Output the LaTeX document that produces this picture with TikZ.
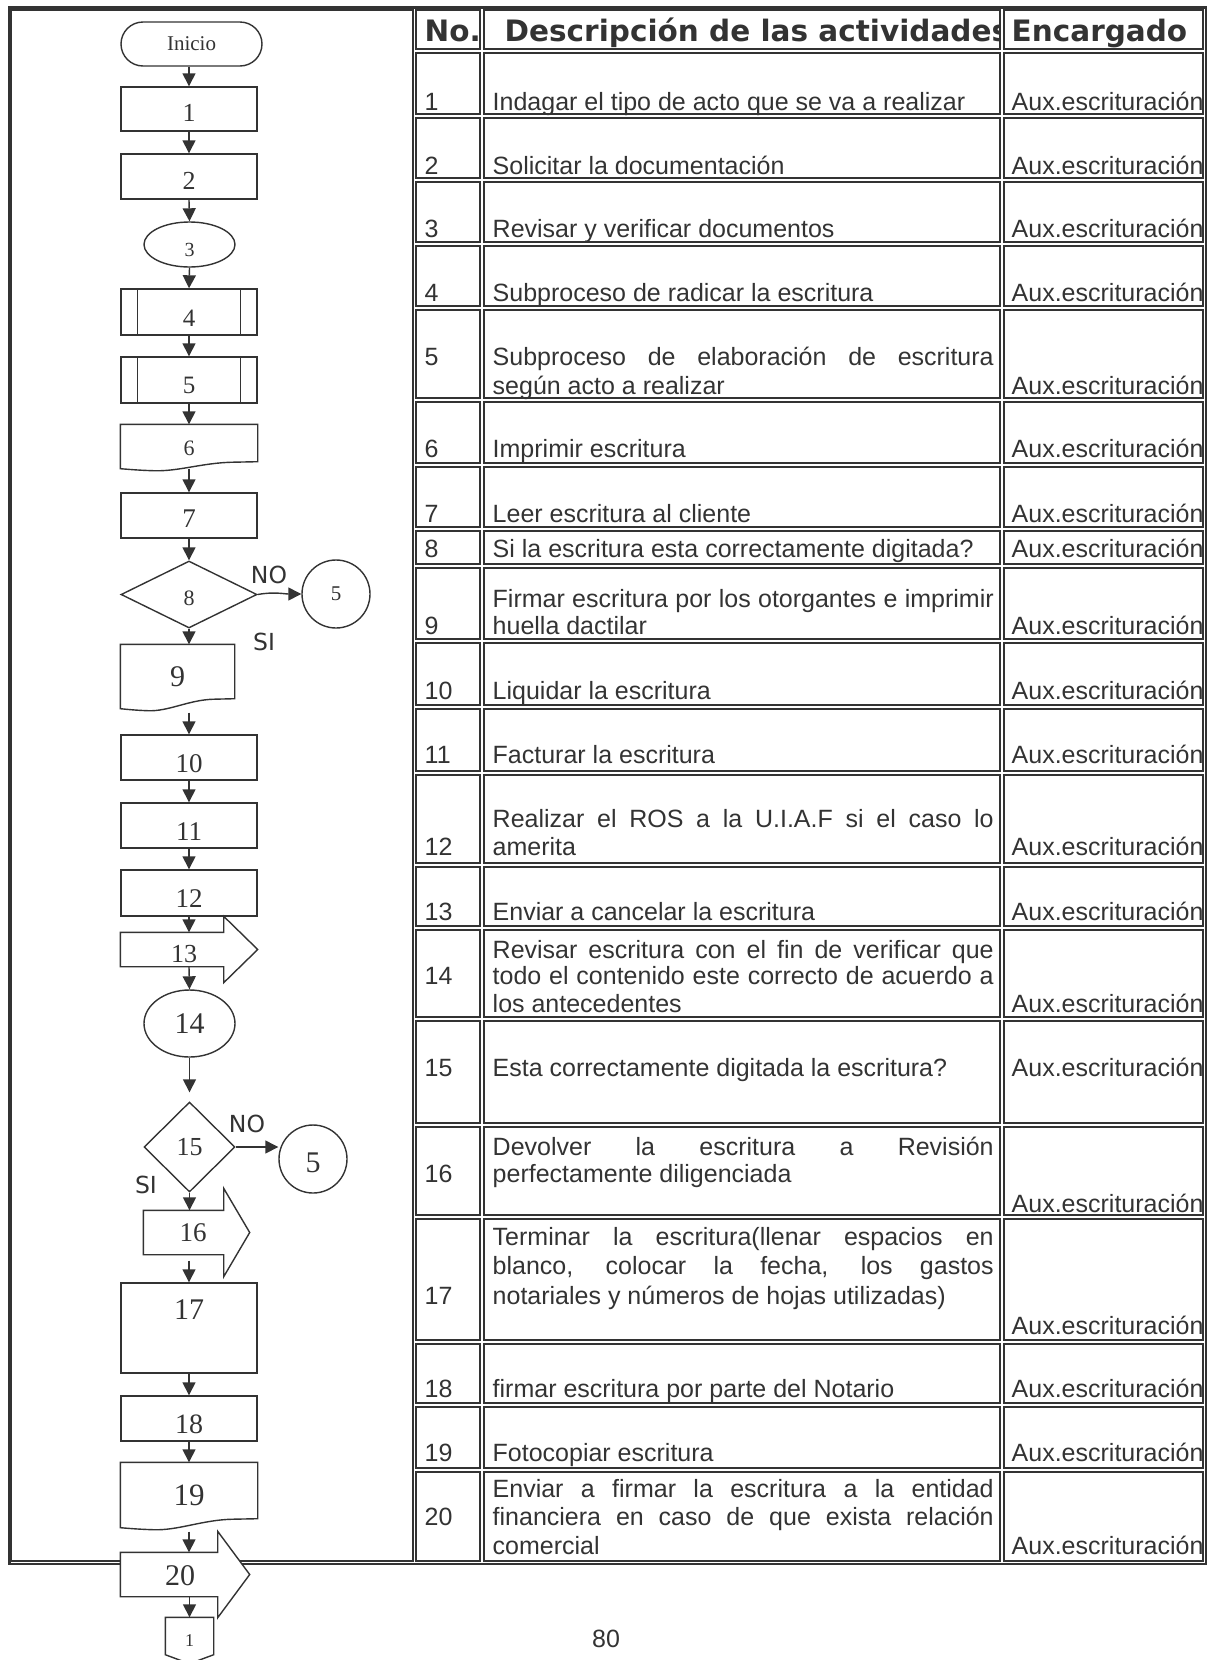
\documentclass[tikz,border=0pt]{standalone}
\usepackage{fontspec}
\setmainfont{Liberation Sans}
\newfontfamily\romana{Liberation Serif}
\newfontfamily\vera{DejaVu Sans}
\usetikzlibrary{shapes,arrows.meta,positioning,calc}
\definecolor{tinta}{HTML}{333333}

% linea justificada de la descripcion
\newcommand{\just}[1]{\makebox[501pt][s]{#1}}

% borde de documento (fondo ondulado)
\newcommand{\docborde}[2]{%
  \draw (#1.south west) -- (#1.north west) -- (#1.north east)
    -- ($(#1.south east)+(0,-#2)$)
    -- ($(#1.south west)!0.82!(#1.south east)+(0,-#2+0.5)$)
    .. controls ($(#1.south west)!0.6!(#1.south east)+(0,-#2+1)$)
           and ($(#1.south west)!0.42!(#1.south east)+(0,3)$)
    .. ($(#1.south west)!0.24!(#1.south east)+(0,2)$)
    .. controls ($(#1.south west)!0.12!(#1.south east)+(0,1.5)$)
           and ($(#1.south west)!0.05!(#1.south east)+(0,0.5)$)
    .. (#1.south west) -- cycle;}

% borde de flecha de envio (cuerpo + punta)
\newcommand{\flechaborde}[3]{%
  \draw[fill=white] (#1.north west) -- ($(#1.north east)+(-#2,0)$) -- ++(0,-#3)
    -- (#1.east) -- ($(#1.south east)+(-#2,#3)$) -- ($(#1.south east)+(-#2,0)$)
    -- (#1.south west) -- cycle;}

\begin{document}
\begin{tikzpicture}[x=1pt,y=-1pt,color=tinta,line width=1.4pt,
    caja/.style={draw,rectangle,minimum width=136pt,minimum height=45pt,inner sep=0pt},
    senal/.style={rectangle,inner sep=0pt},
    flecha/.style={-{Triangle[length=13pt,width=13pt]}},
    num/.style={font=\romana\fontsize{#1}{#1}\selectfont},
    bajar/.style={text height=#1,text depth=0pt},
    sino/.style={inner sep=0pt,font=\vera\fontsize{23.5}{24}\selectfont},
    txt/.style={anchor=base west,inner sep=0pt,font=\fontsize{25}{28}\selectfont},
    cab/.style={anchor=base west,inner sep=0pt,font=\vera\bfseries\fontsize{29.5}{30}\selectfont},
    celda/.style={line width=1.7pt}]
    \useasboundingbox (0,0) rectangle (1217,1660);

    % Marco
    \draw[line width=2.5pt] (9.5,7.5) rectangle (1206,1564);
    \draw[line width=1.8pt] (11.5,10) rectangle (413,1561);

    % Celdas de la tabla
    \foreach \ya/\yb in {8/51,51/116,116/180,180/244,244/308,308/400,400/465,465/529,529/566,566/641,641/707,707/773,773/865,865/928,928/1019,1019/1125,1125/1217,1217/1342,1342/1405,1405/1470,1470/1563}{
      \draw[celda] (416,\ya+2) rectangle (480,\yb-2);
      \draw[celda] (484,\ya+2) rectangle (1000,\yb-2);
      \draw[celda] (1004,\ya+2) rectangle (1203,\yb-2);
    }

    % Encabezado
    \node[cab] (cabno) at (424,41) {No.};
    \begin{scope}
      \clip (484,10) rectangle (1000,49);
      \node[cab] (cabdesc) at (504,41) {Descripción de las actividades};
    \end{scope}
    \node[cab] (cabenc) at (1011,41) {Encargado};

    % Numeros
    \foreach \n/\y in {1/110.6,2/174,3/237.6,4/301,5/365.6,6/457.7,7/522.3,8/557.2,9/634.5,10/699,11/763.6,12/855.6,13/920.2,14/984.8,15/1076.8,16/1182.7,17/1304.4,18/1397.5,19/1461,20/1525.5}
      \node[txt] (no\n) at (424,\y) {\n};

    % Encargado
    \foreach \y [count=\i] in {110.6,174,237.6,301,394,457.7,522.3,557.2,634.5,699,763.6,855.6,920.2,1012.3,1076.8,1212.3,1334,1397.5,1461,1554}
      \node[txt] (enc\i) at (1011,\y) {Aux.escrituración};

    % Descripciones
    \node[txt] (des1) at (492,110.6) {Indagar el tipo de acto que se va a realizar};
    \node[txt] (des2) at (492,174) {Solicitar la documentación};
    \node[txt] (des3) at (492,237.6) {Revisar y verificar documentos};
    \node[txt] (des4) at (492,301) {Subproceso de radicar la escritura};
    \node[txt] (des5a) at (492,365.6) {\just{Subproceso de elaboración de escritura}};
    \node[txt] (des5b) at (492,394) {según acto a realizar};
    \node[txt] (des6) at (492,457.7) {Imprimir escritura};
    \node[txt] (des7) at (492,522.3) {Leer escritura al cliente};
    \node[txt] (des8) at (492,557.2) {Si la escritura esta correctamente digitada?};
    \node[txt] (des9a) at (492,607) {\just{Firmar escritura por los otorgantes e imprimir}};
    \node[txt] (des9b) at (492,634.5) {huella dactilar};
    \node[txt] (des10) at (492,699) {Liquidar la escritura};
    \node[txt] (des11) at (492,763.6) {Facturar la escritura};
    \node[txt] (des12a) at (492,827) {\just{Realizar el ROS a la U.I.A.F si el caso lo}};
    \node[txt] (des12b) at (492,855.6) {amerita};
    \node[txt] (des13) at (492,920.2) {Enviar a cancelar la escritura};
    \node[txt] (des14a) at (492,958.3) {\just{Revisar escritura con el fin de verificar que}};
    \node[txt] (des14b) at (492,984.8) {\just{todo el contenido este correcto de acuerdo a}};
    \node[txt] (des14c) at (492,1012.3) {los antecedentes};
    \node[txt] (des15) at (492,1076.8) {Esta correctamente digitada la escritura?};
    \node[txt] (des16a) at (492,1155) {\just{Devolver la escritura a Revisión}};
    \node[txt] (des16b) at (492,1182.7) {perfectamente diligenciada};
    \node[txt] (des17a) at (492,1245) {\just{Terminar la escritura(llenar espacios en}};
    \node[txt] (des17b) at (492,1274.7) {\just{blanco, colocar la fecha, los gastos}};
    \node[txt] (des17c) at (492,1304.4) {notariales y números de hojas utilizadas)};
    \node[txt] (des18) at (492,1397.5) {firmar escritura por parte del Notario};
    \node[txt] (des19) at (492,1461) {Fotocopiar escritura};
    \node[txt] (des20a) at (492,1497) {\just{Enviar a firmar la escritura a la entidad}};
    \node[txt] (des20b) at (492,1525.5) {\just{financiera en caso de que exista relación}};
    \node[txt] (des20c) at (492,1554) {comercial};

    % Pagina
    \node[txt,anchor=base] (pagina) at (606,1647) {80};

    % Diagrama de flujo
    \node[caja,rounded corners=22pt,minimum width=141pt,minimum height=44pt,num=21] (inicio) at (191.5,44) {Inicio};
    \node[caja,minimum height=44pt,num=26,bajar=25.6pt] (b1) at (189,109) {1};
    \node[caja,num=26,bajar=25.6pt] (b2) at (189,176.5) {2};
    \node[draw,ellipse,minimum width=91pt,minimum height=45pt,inner sep=0pt,num=20,bajar=23.5pt] (e3) at (189.5,244.5) {3};
    \node[caja,minimum height=46pt,num=25,bajar=28.9pt] (b4) at (189,312) {4};
    \node[caja,minimum height=46pt,num=25,bajar=26.9pt] (b5) at (189,380) {5};
    \node[senal,minimum width=136pt,minimum height=43pt,num=22,bajar=18.9pt] (d6) at (189,446.5) {6};
    \node[caja,num=27,bajar=24.3pt] (b7) at (189,515.5) {7};
    \node[draw,diamond,minimum width=136pt,minimum height=67pt,inner sep=0pt,num=22,bajar=22.9pt] (d8) at (189,594.5) {8};
    \node[draw,circle,minimum size=68pt,inner sep=0pt,num=21] (c5a) at (336,594) {5};
    \node[senal,minimum width=113pt,minimum height=63pt,num=30] (d9) at (177.5,676.5) {9};
    \node[caja,num=27,bajar=30.3pt] (b10) at (189,757.5) {10};
    \node[caja,num=27,bajar=30.3pt] (b11) at (189,825.5) {11};
    \node[caja,minimum height=46pt,num=27,bajar=28.3pt] (b12) at (189,893) {12};
    \node[senal,minimum width=136pt,minimum height=33pt] (a13) at (189,949.5) {};
    \node[draw,ellipse,minimum width=91pt,minimum height=67pt,inner sep=0pt,num=30] (e14) at (189.5,1023.5) {14};
    \node[draw,diamond,minimum width=91pt,minimum height=90pt,inner sep=0pt,num=26] (d15) at (189.5,1147) {15};
    \node[draw,circle,minimum size=68pt,inner sep=0pt,num=30,bajar=26.3pt] (c5b) at (313,1159) {5};
    \node[senal,minimum width=105pt,minimum height=43pt] (a16) at (196.5,1232.5) {};
    \node[caja,minimum height=90pt,text depth=36pt,num=30] (b17) at (189,1328) {17};
    \node[caja,num=28,bajar=30.9pt] (b18) at (189,1418.5) {18};
    \node[senal,minimum width=136pt,minimum height=64pt,num=31] (d19) at (189,1495) {19};
    \node[senal,minimum width=128pt,minimum height=43pt] (a20) at (185,1574.5) {};
    \node[senal,minimum width=47pt,minimum height=45pt,num=18] (c1) at (189.5,1640.5) {1};

    % Formas especiales
    \draw ([xshift=17pt]b4.north west) -- ([xshift=17pt]b4.south west);
    \draw ([xshift=-17pt]b4.north east) -- ([xshift=-17pt]b4.south east);
    \draw ([xshift=17pt]b5.north west) -- ([xshift=17pt]b5.south west);
    \draw ([xshift=-17pt]b5.north east) -- ([xshift=-17pt]b5.south east);
    \docborde{d6}{7}
    \docborde{d9}{10}
    \docborde{d19}{9}
    \flechaborde{a13}{34}{16}
    \flechaborde{a16}{26}{22}
    \flechaborde{a20}{32}{21}
    \node[num=26] (t13) at (184,954) {13};
    \node[num=27] (t16) at (193,1233) {16};
    \node[num=30] (t20) at (180,1576) {20};
    \draw (c1.north west) -- (c1.north east) -- ($(c1.south east)+(0,-9)$) -- (c1.south) -- ($(c1.south west)+(0,-9)$) -- cycle;

    % Conectores
    \draw[flecha] (b1.north |- inicio.south) -- (b1.north);
    \draw[flecha] (b1) -- (b2);
    \draw[flecha] (b2.south) -- (e3.north);
    \draw[flecha] (e3.south) -- (b4.north);
    \draw[flecha] (b4) -- (b5);
    \draw[flecha] (b5) -- (d6);
    \draw[flecha] (d6.south) -- (b7.north);
    \draw[flecha] (b7.south) -- (d8.north);
    \draw[flecha] (d8.south) -- (d8.south |- d9.north);
    \draw[flecha,shorten <=4pt] (d9.south -| b10.north) -- (b10.north);
    \draw[flecha] (b10) -- (b11);
    \draw[flecha] (b11) -- (b12);
    \draw[flecha] (b12.south) -- (a13.north);
    \draw[flecha] (a13.south) -- (e14.north);
    \draw[flecha,shorten >=9pt] (e14.south) -- (d15.north);
    \draw[flecha] (d15.south) -- (d15.south |- a16.north);
    \draw[flecha,shorten <=6pt] (a16.south -| b17.north) -- (b17.north);
    \draw[flecha] (b17) -- (b18);
    \draw[flecha] (b18) -- (d19);
    \draw[flecha,shorten <=4pt] (d19.south) -- (d19.south |- a20.north);
    \draw[flecha] (a20.south -| c1.north) -- (c1.north);
    \draw[flecha] (d8.east) to[out=10,in=180] (c5a.west);
    \draw[flecha] (d15.east) -- (d15.east -| c5b.west);

    % Etiquetas SI / NO
    \node[sino] (no8) at (269,575) {NO};
    \node[sino] (si8) at (264,642) {SI};
    \node[sino] (no15) at (247,1124) {NO};
    \node[sino] (si15) at (146,1185) {SI};
\end{tikzpicture}
\end{document}
